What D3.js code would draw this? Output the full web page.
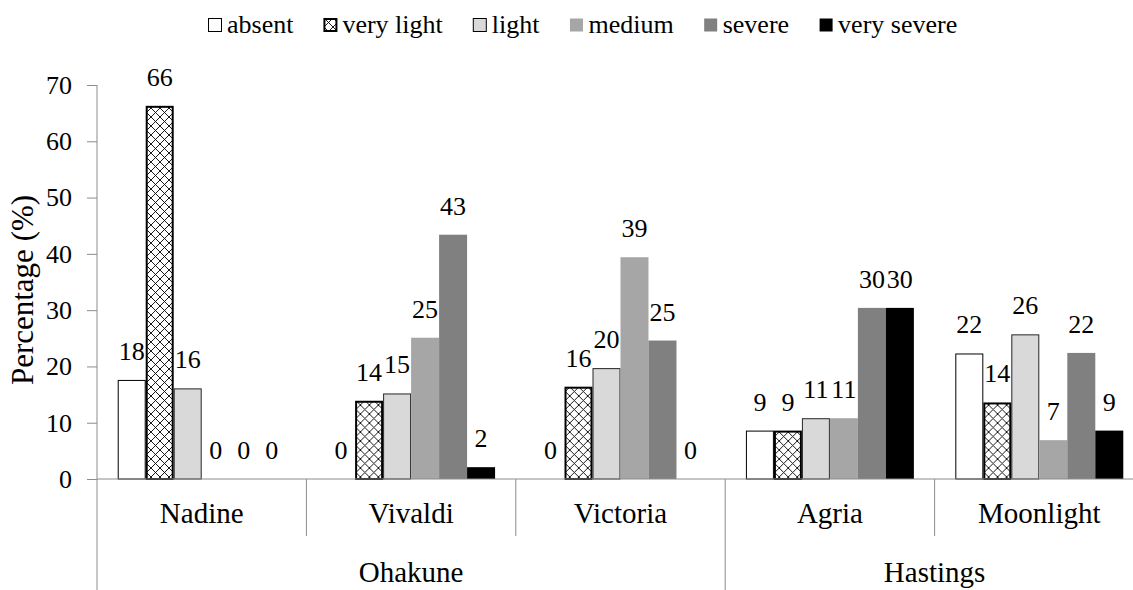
<!DOCTYPE html>
<html>
<head>
<meta charset="utf-8">
<script src="https://cdn.jsdelivr.net/npm/d3@7"></script>
<style>
  html, body { margin: 0; padding: 0; background: #fff; }
  svg text { font-family: "Liberation Serif", "Times New Roman", Times, Tinos, "Nimbus Roman", FreeSerif, "DejaVu Serif", "Noto Serif", serif; }
</style>
</head>
<body>
<svg id="chart" width="1133" height="590"></svg>
<script>
// Cultivars, grouped by growing site
const cultivars = ["Nadine", "Vivaldi", "Victoria", "Agria", "Moonlight"];
const sites = ["Ohakune", "Ohakune", "Ohakune", "Hastings", "Hastings"];
const severity = ["absent", "very light", "light", "medium", "severe", "very severe"];

// Percentage of tubers in each severity class, per cultivar
const absent     = [17.6, 0,    0,    8.6,  22.3];
const veryLight  = [66.3, 13.9, 16.4, 8.6,  13.6];
const light      = [16.1, 15.2, 19.7, 10.8, 25.7];
const medium     = [0,    25.1, 39.4, 10.8, 6.9];
const severe     = [0,    43.4, 24.6, 30.4, 22.4];
const verySevere = [0,    2.1,  0,    30.4, 8.6];

const yTicks = [0, 10, 20, 30, 40, 50, 60, 70];
const yTitle = "Percentage (%)";

const seriesValues = [absent, veryLight, light, medium, severe, verySevere];

const fills = ["#ffffff", "url(#crosshatch)", "#d9d9d9", "#a6a6a6", "#808080", "#000000"];
const strokes = ["#000000", "#000000", "#262626", "none", "none", "none"];
const strokeW = [1, 2, 1, 0, 0, 0];

const svg = d3.select("#chart");
const axisColor = "#8c8c8c";
const textColor = "#000000";

// Cross-hatch pattern for the "very light" class
const defs = svg.append("defs");
const pat = defs.append("pattern")
  .attr("id", "crosshatch")
  .attr("patternUnits", "userSpaceOnUse")
  .attr("width", 9).attr("height", 9);
pat.append("rect").attr("width", 9).attr("height", 9).attr("fill", "#fff");
pat.append("path")
  .attr("d", "M0,0 L9,9 M9,0 L0,9")
  .attr("stroke", "#000").attr("stroke-width", 0.9).attr("fill", "none");

const plotLeft = 97, plotRight = 1144, plotTop = 85, plotBase = 479;

const x0 = d3.scaleBand().domain(cultivars).range([plotLeft, plotRight]).paddingInner(0).paddingOuter(0);
const x1 = d3.scaleBand().domain(severity).range([0, x0.bandwidth()]).paddingInner(0).paddingOuter(0.74);
const y = d3.scaleLinear().domain([0, 70]).range([plotBase, plotTop]);

// Bars and value labels
cultivars.forEach((c, ci) => {
  const g = svg.append("g").attr("transform", `translate(${x0(c)},0)`);
  severity.forEach((s, si) => {
    const v = seriesValues[si][ci];
    if (v > 0) {
      const sw = strokeW[si];
      g.append("rect")
        .attr("x", x1(s) + sw / 2)
        .attr("y", y(v) + sw / 2)
        .attr("width", x1.bandwidth() - sw)
        .attr("height", Math.max(0, plotBase - y(v) - sw / 2))
        .attr("fill", fills[si])
        .attr("stroke", strokes[si])
        .attr("stroke-width", sw);
    }
    g.append("text")
      .attr("x", x1(s) + x1.bandwidth() / 2)
      .attr("y", y(v) - 20)
      .attr("text-anchor", "middle")
      .attr("font-size", 26)
      .attr("fill", textColor)
      .text(d3.format(".0f")(v));
  });
});

// Y axis
const yAxis = d3.axisLeft(y).tickValues(yTicks).tickSize(10).tickPadding(15).tickFormat(d3.format("d"));
const ya = svg.append("g").attr("transform", `translate(${plotLeft},0)`).call(yAxis)
  .attr("font-family", null);
ya.select(".domain").remove();
ya.selectAll(".tick line").attr("stroke", axisColor);
ya.selectAll(".tick text").attr("font-size", 26).attr("fill", textColor);
svg.append("line").attr("x1", plotLeft).attr("x2", plotLeft).attr("y1", plotTop).attr("y2", 590)
  .attr("stroke", axisColor);

// Y axis title
svg.append("text")
  .attr("transform", `translate(33,${(plotTop + plotBase) / 2 + 8}) rotate(-90)`)
  .attr("text-anchor", "middle")
  .attr("font-size", 31)
  .attr("fill", textColor)
  .text(yTitle);

// X axis baseline
svg.append("line").attr("x1", plotLeft).attr("x2", plotRight).attr("y1", plotBase).attr("y2", plotBase)
  .attr("stroke", axisColor);

// Category separators: short between cultivars, long between sites
cultivars.forEach((c, i) => {
  if (i === 0) return;
  const xb = x0(c);
  const long = sites[i] !== sites[i - 1];
  svg.append("line").attr("x1", xb).attr("x2", xb)
    .attr("y1", plotBase).attr("y2", long ? 590 : 536)
    .attr("stroke", axisColor);
});
svg.append("line").attr("x1", plotRight).attr("x2", plotRight).attr("y1", plotBase).attr("y2", 590)
  .attr("stroke", axisColor);

// Cultivar labels
svg.selectAll(".cat").data(cultivars).enter().append("text")
  .attr("class", "cat")
  .attr("x", d => x0(d) + x0.bandwidth() / 2)
  .attr("y", 523)
  .attr("text-anchor", "middle")
  .attr("font-size", 29)
  .attr("fill", textColor)
  .text(d => d);

// Site labels, centred under their cultivars
const siteNames = Array.from(new Set(sites));
siteNames.forEach(s => {
  const members = cultivars.filter((c, i) => sites[i] === s);
  const xs = x0(members[0]);
  const xe = x0(members[members.length - 1]) + x0.bandwidth();
  svg.append("text")
    .attr("x", (xs + xe) / 2)
    .attr("y", 582)
    .attr("text-anchor", "middle")
    .attr("font-size", 29)
    .attr("fill", textColor)
    .text(s);
});

// Legend across the top
const legend = svg.append("g");
let lx = 208;
severity.forEach((s, si) => {
  const sw = si === 1 ? 2 : 1;
  legend.append("rect")
    .attr("x", lx + sw / 2).attr("y", 18 + sw / 2)
    .attr("width", 14 - sw).attr("height", 14 - sw)
    .attr("fill", fills[si])
    .attr("stroke", si <= 2 ? "#000" : "none")
    .attr("stroke-width", sw);
  const t = legend.append("text")
    .attr("x", lx + 19)
    .attr("y", 33)
    .attr("font-size", 26)
    .attr("fill", textColor)
    .text(s);
  lx += 19 + t.node().getComputedTextLength() + 30;
});
</script>
</body>
</html>
